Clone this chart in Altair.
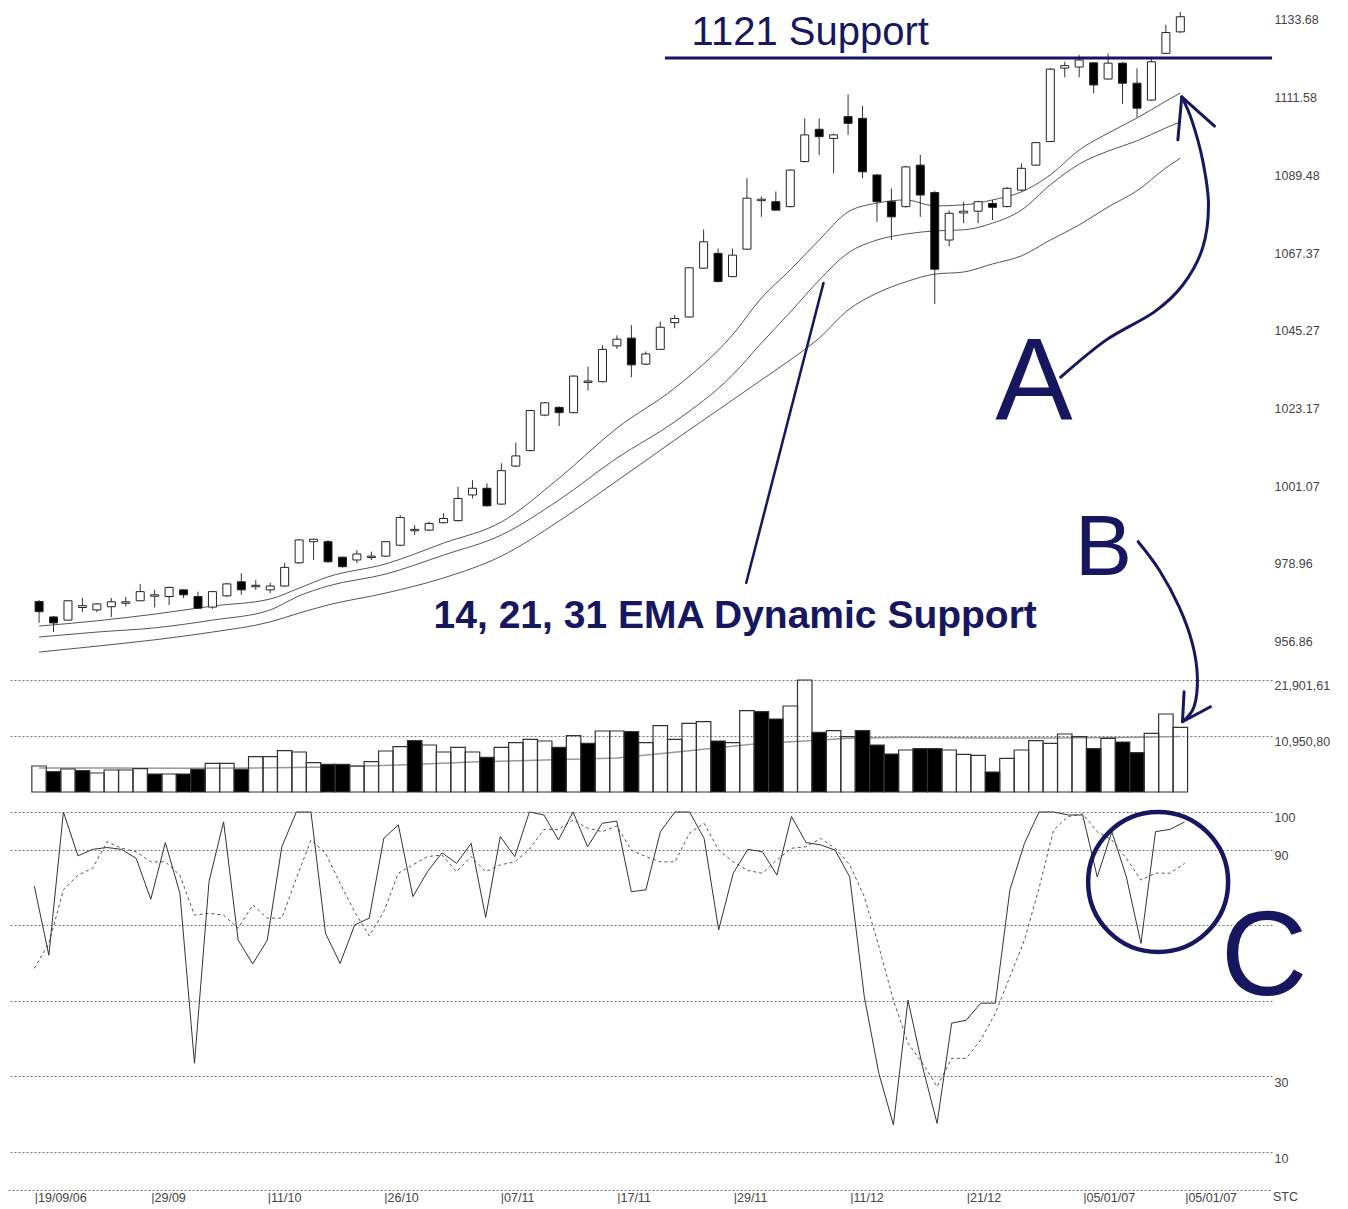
import altair as alt
import pandas as pd

# ---------------- data ----------------
idx = list(range(80))

opens = [968.3, 963.9, 963.0, 966.6, 965.9, 966.8, 967.8, 968.5, 969.8, 969.7,
         971.6, 969.7, 966.7, 969.9, 973.9, 972.5, 971.6, 972.7, 979.3, 985.3,
         985.3, 980.9, 980.1, 980.8, 981.2, 984.3, 988.4, 988.6, 990.7, 991.3,
         998.6, 1000.5, 996.0, 1006.8, 1011.2, 1021.3, 1023.5, 1022.0, 1030.6, 1030.8,
         1041.0, 1043.2, 1035.8, 1040.0, 1047.6, 1049.2, 1063.1, 1067.3, 1060.7, 1068.5,
         1082.3, 1082.0, 1080.6, 1093.4, 1102.6, 1100.0, 1106.2, 1105.7, 1089.6, 1082.0,
         1080.6, 1092.4, 1084.6, 1071.1, 1078.8, 1079.3, 1081.5, 1080.6, 1085.3, 1092.4,
         1099.1, 1120.0, 1120.3, 1121.5, 1116.9, 1121.4, 1115.7, 1110.9, 1124.2, 1130.3]
highs = [968.7, 964.2, 968.7, 969.3, 967.8, 969.3, 969.6, 973.3, 971.6, 972.5,
         971.8, 971.1, 971.3, 973.6, 976.3, 974.4, 973.6, 979.3, 986.0, 986.2,
         985.8, 981.0, 982.9, 982.5, 985.5, 992.9, 990.0, 991.0, 993.4, 1000.9,
         1002.8, 1001.9, 1007.6, 1013.5, 1022.8, 1025.0, 1023.8, 1032.6, 1035.1, 1041.2,
         1044.0, 1046.9, 1039.4, 1047.9, 1049.8, 1063.4, 1074.1, 1068.7, 1068.7, 1088.7,
         1083.5, 1084.9, 1091.2, 1105.7, 1105.7, 1101.3, 1112.5, 1109.2, 1089.9, 1085.8,
         1092.2, 1095.3, 1085.0, 1079.5, 1082.0, 1082.3, 1082.5, 1086.2, 1092.9, 1099.0,
         1120.0, 1121.8, 1123.7, 1121.7, 1124.2, 1121.7, 1119.9, 1123.2, 1132.3, 1136.0]
lows = [962.2, 959.6, 963.0, 965.3, 965.3, 963.9, 966.9, 968.5, 966.6, 967.3,
        969.3, 966.2, 966.2, 969.6, 970.2, 971.6, 970.7, 972.5, 979.0, 980.1,
        979.3, 977.9, 979.2, 980.1, 981.0, 984.0, 987.2, 988.3, 990.5, 991.0,
        997.6, 995.3, 995.8, 1006.5, 1011.0, 1021.0, 1018.2, 1021.8, 1028.3, 1030.6,
        1040.1, 1032.1, 1035.6, 1039.8, 1046.0, 1049.0, 1062.9, 1059.0, 1060.5, 1068.3,
        1077.7, 1079.4, 1080.4, 1093.2, 1095.3, 1090.1, 1101.0, 1088.7, 1076.3, 1071.1,
        1080.3, 1077.7, 1052.9, 1069.3, 1075.9, 1075.9, 1076.8, 1080.4, 1085.0, 1092.2,
        1099.0, 1117.4, 1117.4, 1112.8, 1116.7, 1109.8, 1106.0, 1110.7, 1124.0, 1130.0]
closes = [965.4, 962.2, 968.5, 967.1, 967.6, 968.2, 968.2, 971.1, 970.2, 972.3,
          970.2, 966.4, 971.1, 973.3, 971.6, 972.9, 972.7, 978.0, 985.8, 986.0,
          979.6, 978.2, 981.8, 981.2, 985.3, 992.2, 988.8, 990.5, 991.9, 997.6,
          1000.5, 995.5, 1005.5, 1009.7, 1022.6, 1024.8, 1022.0, 1032.4, 1031.0, 1040.0,
          1042.9, 1035.6, 1038.7, 1046.3, 1048.8, 1063.2, 1070.6, 1059.3, 1066.8, 1083.0,
          1082.7, 1079.6, 1091.0, 1101.0, 1100.5, 1101.0, 1104.3, 1090.5, 1082.0, 1077.7,
          1091.9, 1083.9, 1062.8, 1078.7, 1079.3, 1082.0, 1080.4, 1085.8, 1091.5, 1098.8,
          1119.7, 1120.7, 1122.3, 1115.2, 1121.4, 1115.7, 1108.6, 1121.8, 1130.1, 1134.6]

ema_idx = [0, 4, 8, 12, 16, 18, 20, 24, 28, 32, 36, 40, 44, 48, 50, 52, 54, 56, 58, 60,
           62, 64, 66, 68, 70, 72, 74, 76, 78, 79]
ema14 = [961.3, 962.8, 964.7, 967.0, 969.0, 972.1, 975.3, 979.0, 984.9, 990.9, 1003.4, 1017.6,
         1029.0, 1044.1, 1054.6, 1062.6, 1071.1, 1079.1, 1081.6, 1082.5, 1080.8, 1081.1, 1082.5,
         1084.8, 1089.6, 1096.7, 1101.5, 1105.8, 1110.6, 1112.9]
ema21 = [958.2, 959.6, 960.8, 963.0, 965.9, 969.9, 972.7, 976.1, 981.5, 987.2, 997.2, 1009.1,
         1019.4, 1032.7, 1041.8, 1050.6, 1059.7, 1067.4, 1071.1, 1072.8, 1073.7, 1074.0, 1075.9,
         1079.6, 1086.8, 1092.7, 1096.4, 1099.3, 1103.0, 1104.7]
ema31 = [953.9, 955.6, 957.4, 959.6, 962.5, 965.0, 967.3, 970.7, 975.0, 981.2, 991.2, 1002.6,
         1014.2, 1025.6, 1031.3, 1037.0, 1043.2, 1051.2, 1056.0, 1059.2, 1061.4, 1062.0, 1064.3,
         1066.6, 1071.1, 1075.4, 1080.5, 1085.1, 1091.6, 1094.4]

volumes = [5084, 3970, 4498, 4165, 3715, 4302, 4302, 4556, 3520, 3520,
           3520, 4439, 5612, 5612, 4439, 6903, 6903, 8076, 7822, 5730,
           5417, 5417, 5084, 5925, 8018, 8858, 10032, 9191, 7822, 8741,
           7822, 6786, 8741, 9641, 10306, 9973, 8741, 11010, 9523, 11929,
           11929, 11792, 9641, 12965, 10306, 13434, 13747, 9973, 9641, 15898,
           15703, 14275, 16817, 21901, 11674, 11987, 10814, 11987, 9191, 7431,
           8213, 8467, 8467, 8213, 7372, 7177, 3911, 6590, 8213, 10032,
           9523, 11342, 10814, 8467, 10501, 9778, 7685, 11479, 15253, 12652]
vol_dark_idx = [1, 3, 8, 10, 11, 14, 20, 21, 26, 31, 36, 38, 41, 47, 50, 51, 54, 57, 58, 59,
                61, 62, 66, 73, 75, 76]
vol_ma_idx = [0, 5, 10, 15, 20, 25, 30, 35, 40, 45, 50, 53, 56, 60, 65, 70, 75, 79]
vol_ma = [4693, 4693, 4634, 4693, 4889, 5280, 5867, 6258, 6649, 8076, 9523, 9973, 10501,
          10697, 10560, 10560, 10657, 10853]

stoch_k = [80.4, 62.1, 100, 88.4, 90.1, 90.6, 90.1, 87.7, 76.9, 91.9,
           78.5, 33.5, 81.6, 97.4, 66.1, 59.8, 66.1, 90.8, 100, 100,
           67.9, 59.9, 70.1, 71.9, 93.0, 96.6, 77.6, 84.2, 89.2, 86.4,
           91.7, 72.1, 93.5, 88.2, 100, 99.2, 92.6, 100, 90.8, 97.0,
           97.6, 78.9, 79.4, 94.8, 100, 100, 93.0, 68.8, 83.8, 90.1,
           89.5, 83.3, 98.8, 91.9, 91.3, 89.9, 82.8, 51.1, 30.8, 17.2,
           50.2, 32.6, 17.6, 44.1, 44.9, 49.4, 49.4, 79.4, 91.7, 100,
           100, 99.2, 99.2, 82.8, 94.8, 82.8, 65.2, 94.8, 95.4, 97.4]
stoch_d = [58.6, 65.2, 79.4, 83.3, 85.1, 92.1, 90.4, 89.5, 86.8, 86.8,
           83.3, 72.7, 73.2, 72.7, 69.2, 75.4, 71.9, 71.9, 82.5, 92.6,
           89.1, 81.1, 73.6, 67.2, 73.6, 83.8, 86.0, 88.2, 88.6, 84.2,
           88.2, 84.2, 86.0, 86.8, 90.1, 95.4, 95.4, 97.9, 95.7, 94.8,
           96.3, 89.9, 88.2, 86.8, 86.8, 94.4, 97.0, 89.9, 86.8, 84.5,
           83.8, 87.3, 90.4, 90.8, 93.0, 90.4, 86.0, 77.6, 64.4, 50.2,
           38.8, 33.5, 27.3, 34.8, 34.8, 39.7, 46.7, 56.4, 66.1, 79.8,
           95.2, 98.8, 99.5, 94.8, 92.6, 87.7, 82.0, 83.8, 83.8, 86.4]

date_tick_idx = [0, 8, 16, 24, 32, 40, 48, 56, 64, 72, 79]
date_tick_labels = ["|19/09/06", "|29/09", "|11/10", "|26/10", "|07/11", "|17/11",
                    "|29/11", "|11/12", "|21/12", "|05/01/07", "|05/01/07"]
price_ticks = [956.86, 978.96, 1001.07, 1023.17, 1045.27, 1067.37, 1089.48, 1111.58, 1133.68]
vol_ticks = [10950.80, 21901.61]
vol_tick_labels = ["10,950,80", "21,901,61"]
stoch_ticks = [10, 30, 50, 70, 90, 100]
stoch_tick_labels = ["10", "30", "", "", "90", "100"]

# annotations (data coordinates)
support_level = 1122.87
support_span = [43.32, 85.35]
support_text = "1121 Support"
ema_text = "14, 21, 31 EMA Dynamic Support"
pointer_x = [48.95, 54.3]
pointer_y = [973.6, 1058.9]
arrowA_x = [70.72, 73.88, 77.18, 79.17, 80.54, 80.95, 80.54, 79.79, 79.1]
arrowA_y = [1032.1, 1042.7, 1050.6, 1058.3, 1068.8, 1081.1, 1093.9, 1105.2, 1111.8]
headA_x = [78.83, 79.1, 81.37]
headA_y = [1099.6, 1111.8, 1103.5]
arrowB_x = [76.08, 77.54, 78.91, 79.83, 80.18, 79.95, 79.15]
arrowB_y = [48946, 43412, 36235, 29078, 22547, 16680, 13747]
headB_x = [79.26, 79.15, 81.09]
headB_y = [19614, 13747, 16680]
circle_c = (77.18, 81.47)

# ---------------- chart ----------------
navy = "#17175f"
sans = "Liberation Sans, Arial, sans-serif"
W = 1264

xs = alt.Scale(domain=[-1.806, 85.0], nice=False, zero=False)


def X(f):
    return alt.X(f, type="quantitative", scale=xs, axis=None)


lab = dict(labelFont=sans, labelFontSize=12.5, labelColor="#444", labelPadding=2, title=None)

price_scale = alt.Scale(domain=[949.38, 1137.09], nice=False, zero=False)
price_axis = alt.Axis(orient="right", values=price_ticks, format=".2f", domain=False, ticks=False,
                      grid=False, **lab)


def YP(f):
    return alt.Y(f, type="quantitative", scale=price_scale, axis=price_axis)


vol_scale = alt.Scale(domain=[0, 24248], nice=False, zero=False)
vol_expr = "[" + ",".join("'%s'" % s for s in vol_tick_labels) + "][indexof([" + \
    ",".join(str(v) for v in vol_ticks) + "], datum.value)]"
vol_axis = alt.Axis(orient="right", values=vol_ticks, labelExpr=vol_expr, domain=False, ticks=False,
                    grid=True, gridDash=[2, 2], gridColor="#777", gridWidth=1.2,
                    labelBaseline="top", **lab)


def YV(f):
    return alt.Y(f, type="quantitative", scale=vol_scale, axis=vol_axis)


st_scale = alt.Scale(domain=[-0.05, 105.29], nice=False, zero=False)
st_expr = "[" + ",".join("'%s'" % s for s in stoch_tick_labels) + "][indexof([" + \
    ",".join(str(v) for v in stoch_ticks) + "], datum.value)]"
st_axis = alt.Axis(orient="right", values=stoch_ticks, labelExpr=st_expr, domain=False, ticks=False,
                   grid=True, gridDash=[2, 2], gridColor="#777", gridWidth=1.2,
                   labelBaseline="top", **lab)
date_expr = "[" + ",".join("'%s'" % s for s in date_tick_labels) + "][indexof([" + \
    ",".join(str(v) for v in date_tick_idx) + "], datum.value)]"
date_axis = alt.Axis(values=date_tick_idx, labelExpr=date_expr, domain=True, domainDash=[2, 2],
                     domainColor="#777", domainWidth=1.2, ticks=False, grid=False,
                     labelAlign="left", labelFont=sans, labelFontSize=12.5, labelColor="#444",
                     labelPadding=1, labelFlush=False, labelOverlap=False, title=None)


def YS(f):
    return alt.Y(f, type="quantitative", scale=st_scale, axis=st_axis)


def XS(f):
    return alt.X(f, type="quantitative", scale=xs, axis=date_axis)


def path_layer(px, py, yenc, width, xenc=X, interp="linear"):
    df = pd.DataFrame({"x": px, "y": py, "k": list(range(len(px)))})
    return alt.Chart(df).mark_line(color=navy, strokeWidth=width, interpolate=interp,
                                   strokeCap="round", strokeJoin="round").encode(
        x=xenc("x"), y=yenc("y"), order=alt.Order("k:Q"))


def text_layer(x, y, s, yenc, size, weight="normal", align="left", xenc=X, color=navy,
               font=sans, baseline="alphabetic"):
    df = pd.DataFrame({"x": [x], "y": [y], "t": [s]})
    return alt.Chart(df).mark_text(align=align, baseline=baseline, fontSize=size,
                                   fontWeight=weight, font=font, color=color).encode(
        x=xenc("x"), y=yenc("y"), text="t:N")


# price panel
cdf = pd.DataFrame({"i": idx, "open": opens, "high": highs, "low": lows, "close": closes})
n_ema = len(ema_idx)
ema_df = pd.DataFrame({"i": ema_idx * 3, "v": ema14 + ema21 + ema31,
                       "s": ["14"] * n_ema + ["21"] * n_ema + ["31"] * n_ema})

emas = alt.Chart(ema_df).mark_line(color="#555", strokeWidth=1, interpolate="monotone").encode(
    x=X("i"), y=YP("v"), detail="s:N")
wicks = alt.Chart(cdf).mark_rule(color="#333", strokeWidth=1).encode(
    x=X("i"), y=YP("low"), y2=alt.Y2("high"))
bodies = alt.Chart(cdf).mark_bar(size=8, stroke="#222", strokeWidth=1).encode(
    x=X("i"), y=YP("open"), y2=alt.Y2("close"),
    fill=alt.condition("datum.close >= datum.open", alt.value("white"), alt.value("black")))
sup_df = pd.DataFrame({"x": [support_span[0]], "x2": [support_span[1]], "y": [support_level]})
sup = alt.Chart(sup_df).mark_rule(color=navy, strokeWidth=3).encode(
    x=X("x"), x2=alt.X2("x2"), y=YP("y"))

price = alt.layer(
    emas, wicks, bodies, sup,
    text_layer(45.17, 1126.57, support_text, YP, 40),
    text_layer(27.31, 960.76, ema_text, YP, 39, weight="bold"),
    path_layer(pointer_x, pointer_y, YP, 2.5),
    path_layer(arrowA_x, arrowA_y, YP, 3, interp="cardinal"),
    path_layer(headA_x, headA_y, YP, 3),
    text_layer(68.87, 1019.9, "A", YP, 116, align="center"),
    text_layer(73.67, 975.8, "B", YP, 86, align="center"),
).properties(width=W, height=660)

# volume panel
vdf = pd.DataFrame({"i": idx, "vol": volumes,
                    "dark": [1 if k in vol_dark_idx else 0 for k in idx]})
ma_df = pd.DataFrame({"i": vol_ma_idx, "v": vol_ma})
vma = alt.Chart(ma_df).mark_line(color="#999", strokeWidth=1.5).encode(x=X("i"), y=YV("v"))
vbars = alt.Chart(vdf).mark_bar(size=14.5, stroke="#333", strokeWidth=1.2).encode(
    x=X("i"), y=YV("vol"),
    fill=alt.condition("datum.dark == 1", alt.value("black"), alt.value("transparent")))
vol = alt.layer(
    vma, vbars,
    path_layer(arrowB_x, arrowB_y, YV, 3, interp="cardinal"),
    path_layer(headB_x, headB_y, YV, 3),
).properties(width=W, height=124)

# stochastic panel
sdf = pd.DataFrame({"i": idx, "k": stoch_k, "d": stoch_d})
kline = alt.Chart(sdf).mark_line(color="#333", strokeWidth=1).encode(x=XS("i"), y=YS("k"))
dline = alt.Chart(sdf).mark_line(color="#555", strokeWidth=1, strokeDash=[3, 3]).encode(
    x=XS("i"), y=YS("d"))
circ_df = pd.DataFrame({"x": [circle_c[0]], "y": [circle_c[1]]})
circ = alt.Chart(circ_df).mark_point(shape="circle", size=19600, filled=False, color=navy,
                                     strokeWidth=4.5, opacity=1).encode(x=XS("x"), y=YS("y"))
stoch = alt.layer(
    dline, kline, circ,
    text_layer(84.46, 51.56, "C", YS, 120, align="center", xenc=XS),
    text_layer(85.07, -1.9, "STC", YS, 12.5, xenc=XS, color="#444", baseline="middle"),
).properties(width=W, height=398)

chart = alt.vconcat(price, vol, stoch, spacing=0, bounds="flush").properties(
    padding=0
).configure_view(stroke=None)

chart.save("out.html", embed_options={"renderer": "svg", "actions": False})
